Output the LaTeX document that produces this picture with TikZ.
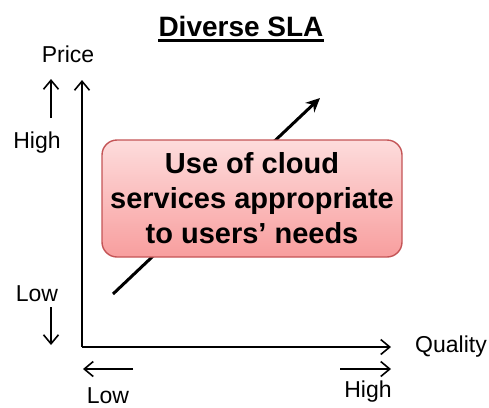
\documentclass[tikz,border=0pt]{standalone}
\usepackage{fontspec}
\setmainfont{Liberation Sans}
\usetikzlibrary{arrows.meta}
\definecolor{calloutTop}{RGB}{253,220,220}
\definecolor{calloutBottom}{RGB}{248,158,158}
\definecolor{calloutEdge}{RGB}{196,84,86}
\begin{document}
\begin{tikzpicture}[x=1pt,y=-1pt,
  lbl/.style={font=\fontsize{23}{26}\selectfont, inner sep=0pt, anchor=base},
  hint/.style={line width=1.6pt, -{Straight Barb[length=9pt,width=15pt,line width=1.6pt]}},
  trend/.style={line width=3pt, -{Stealth[length=14pt,width=13pt]}},
  callout/.style={draw=calloutEdge, line width=1.4pt, rounded corners=15pt,
    top color=calloutTop, bottom color=calloutBottom, minimum width=300pt, minimum height=117pt,
    align=center, inner sep=0pt,
    font=\fontsize{29}{35}\selectfont\bfseries}]
\useasboundingbox (0,0) rectangle (489,407);

% title
\node[inner sep=0pt, anchor=base, font=\fontsize{28}{32}\selectfont\bfseries]
  (title) at (241,36) {Diverse SLA};
\draw[line width=2.4pt] ([yshift=-4.5pt]title.base west) -- ([yshift=-4.5pt]title.base east);

% axes
\coordinate (origin) at (82,347);
\coordinate (ytop) at (82,80);
\coordinate (xend) at (391,347);
\draw[hint] (origin) -- (ytop);
\draw[hint] (origin) -- (xend);

% axis labels
\node[lbl] (price) at (68,62) {Price};
\node[lbl] (qual) at (451,352) {Quality};
\node[lbl] (yhigh) at (37,148) {High};
\node[lbl] (ylow) at (37,301) {Low};
\node[lbl] (xlow) at (108,403) {Low};
\node[lbl] (xhigh) at (368,397) {High};

% direction hints
\coordinate (uA) at (51,118); \coordinate (uB) at (51,79);
\coordinate (dA) at (51,307); \coordinate (dB) at (51,345);
\coordinate (lA) at (133,369); \coordinate (lB) at (83,369);
\coordinate (rA) at (340,369); \coordinate (rB) at (391,369);
\draw[hint] (uA) -- (uB);
\draw[hint] (dA) -- (dB);
\draw[hint] (lA) -- (lB);
\draw[hint] (rA) -- (rB);

% trend arrow behind the callout
\coordinate (tA) at (113,294);
\coordinate (tB) at (320,98);
\draw[trend] (tA) -- (tB);

% callout
\node[callout] (box) at (252,198.5) {Use of cloud\\services appropriate\\to users’ needs};
\end{tikzpicture}
\end{document}
